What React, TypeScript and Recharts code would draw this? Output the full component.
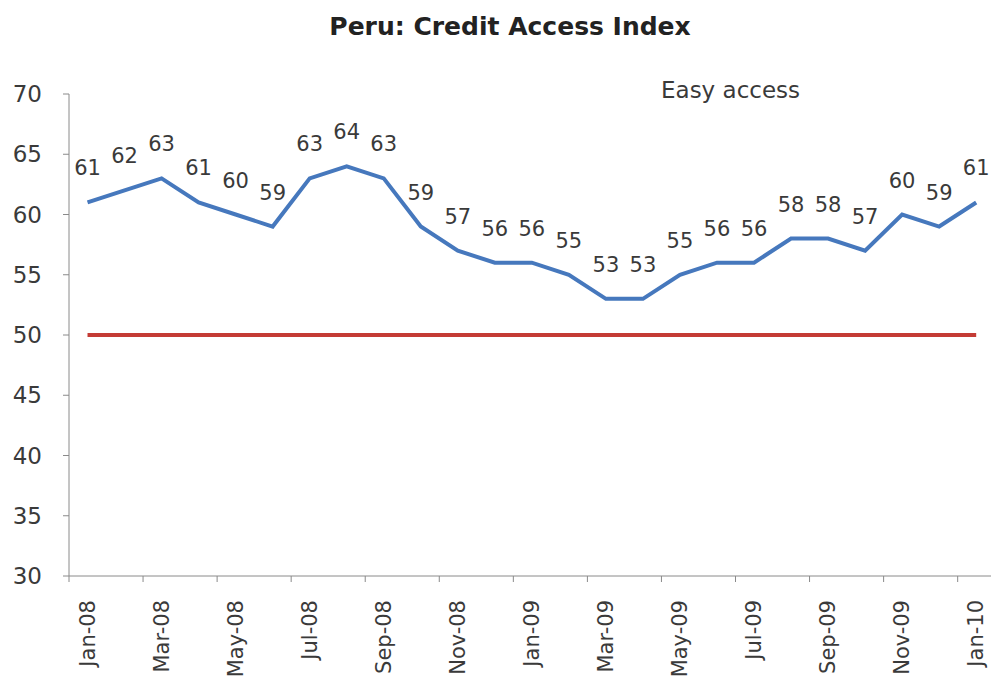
import { LabelList, Line, LineChart, ReferenceLine, XAxis, YAxis } from "recharts";

const MONTHS = [
  "Jan-08", "Feb-08", "Mar-08", "Apr-08", "May-08", "Jun-08", "Jul-08", "Aug-08", "Sep-08",
  "Oct-08", "Nov-08", "Dec-08", "Jan-09", "Feb-09", "Mar-09", "Apr-09", "May-09", "Jun-09",
  "Jul-09", "Aug-09", "Sep-09", "Oct-09", "Nov-09", "Dec-09", "Jan-10",
];
const CREDIT_INDEX = [61, 62, 63, 61, 60, 59, 63, 64, 63, 59, 57, 56, 56, 55, 53, 53, 55, 56, 56, 58, 58, 57, 60, 59, 61];
const THRESHOLD = 50;
const Y_TICKS = [30, 35, 40, 45, 50, 55, 60, 65, 70];
const LABEL_TICKS = [0, 2, 4, 6, 8, 10, 12, 14, 16, 18, 20, 22, 24];
const MARK_TICKS = [-0.5, 1.5, 3.5, 5.5, 7.5, 9.5, 11.5, 13.5, 15.5, 17.5, 19.5, 21.5, 23.5];

const data = MONTHS.map((month, i) => ({ i, month, value: CREDIT_INDEX[i] }));

const FONT = "'DejaVu Sans', 'Open Sans', sans-serif";
const TEXT = "#3a3a3a";
const X_DOMAIN: [number, number] = [-0.5, 24.4];

function MonthTick(props: any) {
  const { x, y, payload } = props;
  return (
    <text
      x={x}
      y={y}
      transform={`rotate(-90 ${x} ${y})`}
      textAnchor="end"
      dominantBaseline="central"
      fill={TEXT}
      fontSize={21}
      fontFamily={FONT}
    >
      {MONTHS[payload.value]}
    </text>
  );
}

export default function App() {
  return (
    <div style={{ position: "absolute", left: 0, top: 0, width: 991, height: 693, background: "#fff", fontFamily: FONT }}>
      <div
        style={{
          position: "absolute",
          left: 30,
          top: 12,
          width: 960,
          textAlign: "center",
          fontSize: 25,
          fontWeight: 700,
          color: "#222",
        }}
      >
        Peru: Credit Access Index
      </div>
      <div style={{ position: "absolute", left: 661, top: 77, fontSize: 23, color: TEXT }}>Easy access</div>
      <LineChart width={991} height={693} data={data} margin={{ top: 94, right: 0, left: 0, bottom: 0 }}>
        <YAxis
          type="number"
          domain={[30, 70]}
          ticks={Y_TICKS}
          width={69}
          stroke="#8a8a8a"
          tickSize={6}
          tickMargin={21}
          tick={{ fill: TEXT, fontSize: 23, fontFamily: FONT }}
        />
        <XAxis
          xAxisId="a_marks"
          type="number"
          dataKey="i"
          domain={X_DOMAIN}
          ticks={MARK_TICKS}
          tickFormatter={() => ""}
          height={8}
          stroke="#8a8a8a"
          tickSize={6}
        />
        <XAxis
          xAxisId="b_labels"
          type="number"
          dataKey="i"
          domain={X_DOMAIN}
          ticks={LABEL_TICKS}
          height={109}
          axisLine={false}
          tickLine={false}
          tickSize={0}
          tickMargin={16}
          interval={0}
          tick={<MonthTick />}
        />
        <ReferenceLine
          xAxisId="b_labels"
          segment={[
            { x: 0, y: THRESHOLD },
            { x: 24, y: THRESHOLD },
          ]}
          stroke="#c43b35"
          strokeWidth={4}
        />
        <Line
          xAxisId="b_labels"
          type="linear"
          dataKey="value"
          stroke="#4678bd"
          strokeWidth={4}
          dot={false}
          isAnimationActive={false}
        >
          <LabelList dataKey="value" position="top" offset={27} fill={TEXT} fontSize={21} fontFamily={FONT} />
        </Line>
      </LineChart>
    </div>
  );
}
